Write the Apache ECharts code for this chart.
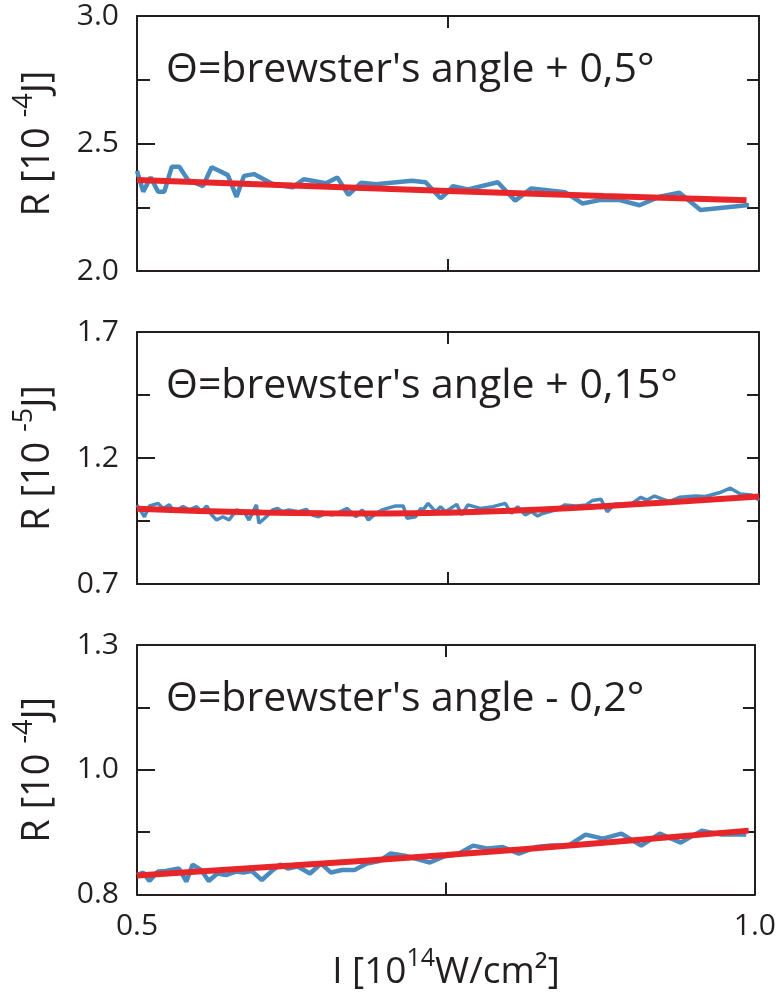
<!DOCTYPE html>
<html>
<head>
<meta charset="utf-8">
<script src="https://cdn.jsdelivr.net/npm/echarts@6/dist/echarts.min.js"></script>
<style>
  html, body { margin: 0; padding: 0; background: #fff; }
  #chart { width: 779px; height: 992px; }
</style>
</head>
<body>
<div id="chart"></div>
<script>
// ---- shared x axis (intensity, 10^14 W/cm^2) ----
const xRange = [0.5, 1.0];
const xTickValues = [0.5, 0.75, 1.0];
const xLabelValues = [0.5, 1.0];
const xLabelText = ['0.5', '1.0'];

// ---- panel 1: brewster + 0,5° (R in 10^-4 J) ----
const p1Range = [2.0, 3.0];
const p1TickValues = [2.0, 2.25, 2.5, 2.75, 3.0];
const p1LabelValues = [2.0, 2.5, 3.0];
const p1LabelText = ['2.0', '2.5', '3.0'];
const p1X = [0.500, 0.505, 0.511, 0.517, 0.522, 0.528, 0.534, 0.541, 0.553, 0.560,
             0.566, 0.573, 0.580, 0.586, 0.594, 0.609, 0.625, 0.634, 0.652, 0.661,
             0.670, 0.680, 0.692, 0.721, 0.732, 0.744, 0.750, 0.754, 0.766, 0.790,
             0.804, 0.817, 0.844, 0.858, 0.872, 0.888, 0.904, 0.920, 0.936, 0.953, 0.992];
const p1R = [2.393, 2.311, 2.367, 2.311, 2.311, 2.409, 2.409, 2.357, 2.333, 2.407,
             2.393, 2.376, 2.291, 2.373, 2.380, 2.341, 2.328, 2.360, 2.344, 2.367,
             2.298, 2.346, 2.340, 2.354, 2.348, 2.285, 2.311, 2.333, 2.320, 2.348,
             2.276, 2.324, 2.309, 2.265, 2.278, 2.278, 2.258, 2.291, 2.307, 2.239, 2.259];
const p1FitX = [0.5, 0.625, 0.75, 0.875, 0.99];
const p1FitR = [2.357, 2.335, 2.314, 2.294, 2.277];

// ---- panel 2: brewster + 0,15° (R in 10^-5 J) ----
const p2Range = [0.7, 1.7];
const p2TickValues = [0.7, 0.95, 1.2, 1.45, 1.7];
const p2LabelValues = [0.7, 1.2, 1.7];
const p2LabelText = ['0.7', '1.2', '1.7'];
const p2X = [0.500, 0.501, 0.506, 0.510, 0.517, 0.521, 0.526, 0.530, 0.537, 0.542,
             0.548, 0.552, 0.556, 0.560, 0.564, 0.569, 0.574, 0.580, 0.586, 0.590,
             0.596, 0.598, 0.604, 0.609, 0.613, 0.617, 0.622, 0.630, 0.636, 0.641,
             0.646, 0.652, 0.657, 0.662, 0.669, 0.676, 0.681, 0.686, 0.692, 0.697,
             0.708, 0.714, 0.717, 0.724, 0.728, 0.730, 0.734, 0.740, 0.744, 0.748,
             0.757, 0.761, 0.766, 0.776, 0.786, 0.796, 0.801, 0.806, 0.812, 0.817,
             0.822, 0.826, 0.837, 0.844, 0.853, 0.861, 0.866, 0.873, 0.878, 0.884,
             0.893, 0.898, 0.905, 0.910, 0.916, 0.928, 0.936, 0.949, 0.957, 0.968,
             0.977, 0.985, 0.994, 1.000];
const p2R = [1.013, 1.007, 0.967, 1.010, 1.020, 1.000, 1.014, 0.987, 1.007, 0.994,
             1.007, 0.987, 1.010, 0.974, 0.954, 0.967, 0.954, 0.994, 0.987, 0.954,
             1.014, 0.941, 0.967, 0.994, 1.000, 0.987, 0.994, 0.987, 0.996, 0.974,
             0.967, 0.980, 0.974, 0.983, 1.000, 0.967, 0.994, 0.954, 0.980, 0.994,
             1.010, 1.010, 0.961, 0.967, 1.000, 0.994, 1.020, 0.987, 1.007, 0.987,
             1.016, 0.974, 1.014, 1.000, 1.007, 1.020, 0.980, 1.007, 0.974, 0.987,
             0.970, 0.980, 0.994, 1.014, 1.010, 1.014, 1.031, 1.036, 0.987, 1.016,
             1.018, 1.020, 1.044, 1.033, 1.049, 1.027, 1.044, 1.049, 1.047, 1.062,
             1.080, 1.057, 1.053, 1.033];
const p2FitX = [0.5, 0.55, 0.6, 0.65, 0.7, 0.75, 0.8, 0.85, 0.9, 0.95, 1.0];
const p2FitR = [0.999, 0.990, 0.984, 0.981, 0.980, 0.983, 0.991, 1.002, 1.016, 1.031, 1.047];

// ---- panel 3: brewster - 0,2° (R in 10^-4 J) ----
const p3Range = [0.8, 1.3];
const p3TickValues = [0.8, 0.925, 1.05, 1.175, 1.3];
const p3LabelValues = [0.8, 1.05, 1.3];
const p3LabelText = ['0.8', '1.0', '1.3'];
const p3X = [0.500, 0.505, 0.510, 0.517, 0.523, 0.534, 0.540, 0.545, 0.552, 0.558,
             0.565, 0.572, 0.580, 0.586, 0.593, 0.601, 0.609, 0.616, 0.622, 0.630,
             0.640, 0.649, 0.657, 0.666, 0.676, 0.686, 0.696, 0.705, 0.718, 0.737,
             0.748, 0.759, 0.772, 0.784, 0.796, 0.809, 0.823, 0.835, 0.849, 0.863,
             0.877, 0.892, 0.908, 0.923, 0.940, 0.957, 0.973, 0.993];
const p3R = [0.839, 0.844, 0.827, 0.846, 0.847, 0.852, 0.826, 0.860, 0.849, 0.827,
             0.842, 0.839, 0.846, 0.844, 0.847, 0.829, 0.847, 0.860, 0.852, 0.856,
             0.842, 0.862, 0.844, 0.849, 0.849, 0.862, 0.867, 0.882, 0.877, 0.864,
             0.876, 0.880, 0.898, 0.892, 0.895, 0.882, 0.895, 0.898, 0.898, 0.920,
             0.912, 0.922, 0.898, 0.922, 0.904, 0.928, 0.920, 0.920];
const p3FitX = [0.5, 0.625, 0.75, 0.875, 0.995];
const p3FitR = [0.838, 0.858, 0.879, 0.903, 0.928];

const panels = [
  { range: p1Range, ticks: p1TickValues, labelVals: p1LabelValues, labelText: p1LabelText,
    x: p1X, r: p1R, fitX: p1FitX, fitR: p1FitR, exp: '-4',
    caption: 'Θ=brewster\'s angle + 0,5°', blueWidth: 4.5 },
  { range: p2Range, ticks: p2TickValues, labelVals: p2LabelValues, labelText: p2LabelText,
    x: p2X, r: p2R, fitX: p2FitX, fitR: p2FitR, exp: '-5',
    caption: 'Θ=brewster\'s angle + 0,15°', blueWidth: 3.5 },
  { range: p3Range, ticks: p3TickValues, labelVals: p3LabelValues, labelText: p3LabelText,
    x: p3X, r: p3R, fitX: p3FitX, fitR: p3FitR, exp: '-4',
    caption: 'Θ=brewster\'s angle - 0,2°', blueWidth: 4.5 }
];

// ---- layout and style ----
const FONT = 'Open Sans';
const INK = '#231f20';
const BLUE = '#4a8bbf';
const RED = '#e8262a';
const plotLeft = 137, plotWidth = 622;
const grids = [
  { left: plotLeft, top: 16, width: plotWidth, height: 255 },
  { left: plotLeft, top: 332, width: plotWidth, height: 252 },
  { left: plotLeft, top: 645, width: plotWidth, height: 253 }
];

const pick = (vals, texts) => (v) => {
  const i = vals.findIndex(t => Math.abs(t - v) < 1e-6);
  return i >= 0 ? texts[i] : '';
};

const xAxes = [], yAxes = [], series = [], graphics = [];
const axisLine = { show: true, onZero: false, lineStyle: { color: INK, width: 2 } };

panels.forEach((p, i) => {
  const last = i === panels.length - 1;
  // bottom x axis
  xAxes.push({
    gridIndex: i, type: 'value', position: 'bottom', min: xRange[0], max: xRange[1],
    axisLine,
    axisTick: { show: true, inside: true, length: 12, customValues: [xTickValues[1]],
                lineStyle: { color: INK, width: 2 } },
    axisLabel: { show: last, customValues: xLabelValues, formatter: pick(xLabelValues, xLabelText),
                 fontFamily: FONT, fontSize: 30, color: INK, margin: 17 },
    splitLine: { show: false },
    name: last ? '{n|I [10}{sup|14}{n|W/cm²]}' : '',
    nameLocation: 'middle', nameGap: 52,
    nameTextStyle: {
      rich: {
        n: { fontFamily: FONT, fontSize: 37, color: INK, lineHeight: 52 },
        sup: { fontFamily: FONT, fontSize: 25, color: INK, verticalAlign: 'top', lineHeight: 26 }
      }
    }
  });
  // top x axis (frame + tick only)
  xAxes.push({
    gridIndex: i, type: 'value', position: 'top', min: xRange[0], max: xRange[1],
    axisLine,
    axisTick: { show: true, inside: true, length: 12, customValues: [xTickValues[1]],
                lineStyle: { color: INK, width: 2 } },
    axisLabel: { show: false }, splitLine: { show: false }
  });

  const majors = p.labelVals;
  const minors = p.ticks.filter(t => !majors.some(m => Math.abs(m - t) < 1e-6));
  // left axis: labels, long ticks
  yAxes.push({
    gridIndex: i, type: 'value', position: 'left', min: p.range[0], max: p.range[1],
    axisLine,
    axisTick: { show: true, inside: true, length: 18, customValues: majors,
                lineStyle: { color: INK, width: 2 } },
    axisLabel: { show: true, customValues: majors, formatter: pick(p.labelVals, p.labelText),
                 fontFamily: FONT, fontSize: 30, color: INK, margin: 18 },
    splitLine: { show: false },
    name: '{n|R [10 }{sup|' + p.exp + '}{n|J]}',
    nameLocation: 'middle', nameGap: 72,
    nameTextStyle: {
      rich: {
        n: { fontFamily: FONT, fontSize: 38, color: INK, lineHeight: 54 },
        sup: { fontFamily: FONT, fontSize: 27, color: INK, verticalAlign: 'top',
               lineHeight: 26 }
      }
    }
  });
  // left axis: short unlabelled ticks
  yAxes.push({
    gridIndex: i, type: 'value', position: 'left', min: p.range[0], max: p.range[1],
    axisLine: { show: false },
    axisTick: { show: true, inside: true, length: 13, customValues: minors,
                lineStyle: { color: INK, width: 2 } },
    axisLabel: { show: false }, splitLine: { show: false }
  });
  // right axis: frame + ticks
  yAxes.push({
    gridIndex: i, type: 'value', position: 'right', min: p.range[0], max: p.range[1],
    axisLine,
    axisTick: { show: true, inside: true, length: 12, customValues: p.ticks,
                lineStyle: { color: INK, width: 2 } },
    axisLabel: { show: false }, splitLine: { show: false }
  });

  series.push({
    type: 'line', xAxisIndex: 2 * i, yAxisIndex: 3 * i,
    data: p.x.map((x, k) => [x, p.r[k]]),
    showSymbol: false, lineStyle: { color: BLUE, width: p.blueWidth }, z: 2, silent: true
  });
  series.push({
    type: 'line', xAxisIndex: 2 * i, yAxisIndex: 3 * i,
    data: p.fitX.map((x, k) => [x, p.fitR[k]]), smooth: true,
    showSymbol: false, lineStyle: { color: RED, width: 6 }, z: 3, silent: true
  });

  // panel caption
  graphics.push({
    type: 'text', left: 166, top: grids[i].top + 34,
    style: { text: p.caption, font: '41px "' + FONT + '"', fill: INK }
  });
});

const chart = echarts.init(document.getElementById('chart'), null, { renderer: 'canvas' });
chart.setOption({
  animation: false,
  backgroundColor: '#fff',
  grid: grids,
  xAxis: xAxes,
  yAxis: yAxes,
  series: series,
  graphic: graphics
});
</script>
</body>
</html>
